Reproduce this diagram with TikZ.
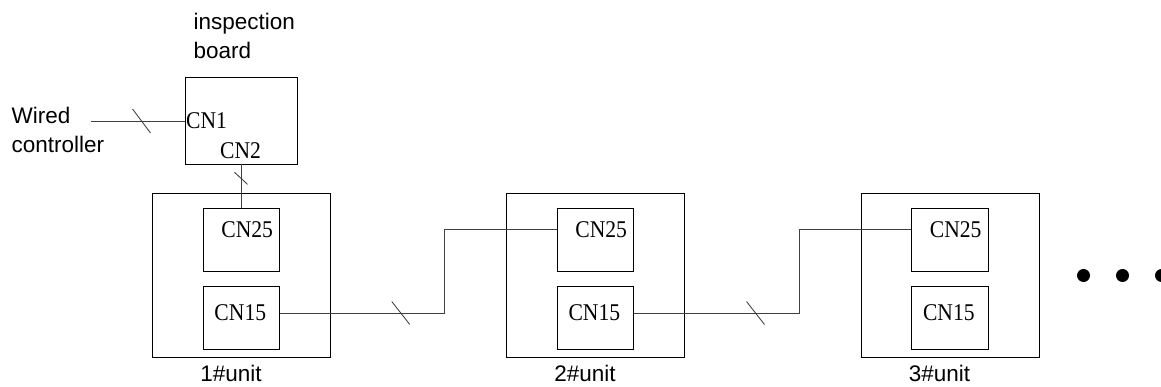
\documentclass[tikz,border=0pt]{standalone}
\usepackage{fontspec}
\usetikzlibrary{calc}
\setmainfont{Liberation Sans}
\newfontfamily\cnfont[FakeStretch=0.9]{Liberation Serif}
\begin{document}
\begin{tikzpicture}[x=1pt,y=-1pt,
  wire/.style={draw=black!75,line width=0.9pt},
  box/.style={draw=black,line width=0.9pt,inner sep=0pt},
  outerbox/.style={box,minimum width=178pt,minimum height=164pt},
  innerbox/.style={box,minimum width=76.5pt,minimum height=63.5pt},
  cnlab/.style={font=\cnfont\fontsize{24}{26}\selectfont,inner sep=0pt},
  lab/.style={font=\fontsize{22.5}{29.3}\selectfont,inner sep=0pt,align=left},
  slashmark/.style={draw=black!80,line width=0.8pt},
  dotmark/.style={circle,fill=black,inner sep=0pt,minimum size=13pt}]
\useasboundingbox (0,0) rectangle (1161,387);

% inspection board
\node[box,minimum width=112pt,minimum height=87pt] (insp) at (241,120.5) {};
\node[cnlab,anchor=west] (cn1) at (186,120.5) {CN1};
\node[cnlab] (cn2) at (240.5,150.5) {CN2};
\node[lab,anchor=north west] (insplab) at (193.5,12.8) {inspection\\board};
\node[lab,anchor=north west] (wclab) at (11.5,106.8) {Wired\\controller};
\coordinate (wcend) at (91,121);

% units
\foreach \i/\x/\w in {a/241.5/0.9,b/595.5/1.4,c/950/0.9}{
  \node[outerbox] (u\i) at (\x,275) {};
  \node[innerbox,line width=\w pt] (c25\i) at (\x,240) {};
  \node[innerbox] (c15\i) at (\x,317.7) {};
  \node[cnlab] (t25\i) at ($(c25\i.center)+(5.7,-10.8)$) {CN25};
  \node[cnlab] (t15\i) at ($(c15\i.center)+(-1.2,-4.7)$) {CN15};
}
\node[lab,anchor=base] (la) at (231,381) {1\#unit};
\node[lab,anchor=base] (lb) at (585,381) {2\#unit};
\node[lab,anchor=base] (lc) at (939.5,381) {3\#unit};

% connectors
\draw[wire] (wcend) -- coordinate[pos=0.54] (s0) (wcend -| insp.west);
\draw[wire] (insp.south) -- coordinate[pos=0.32] (s1) (insp.south |- c25a.north);
\draw[wire] (c15a.east |- t15a.center) -- coordinate[pos=0.736] (s2) (444,313) -- (444,229.3) -- (c25b.west |- 444,229.3);
\draw[wire] (c15b.east |- t15b.center) -- coordinate[pos=0.736] (s3) (799,313) -- (799,229.3) -- (c25c.west |- 799,229.3);

\draw[slashmark] ($(s0)+(-9,-12)$) -- ($(s0)+(9,12)$);
\draw[slashmark] ($(s1)+(-6.5,-6)$) -- ($(s1)+(6.5,6)$);
\draw[slashmark] ($(s2)+(-9,-11.5)$) -- ($(s2)+(9,11.5)$);
\draw[slashmark] ($(s3)+(-9,-11.5)$) -- ($(s3)+(9,11.5)$);

% dots
\node[dotmark] (d1) at (1083.5,275.5) {};
\node[dotmark] (d2) at (1122.5,275.5) {};
\node[dotmark] (d3) at (1161.5,275.5) {};
\end{tikzpicture}
\end{document}
